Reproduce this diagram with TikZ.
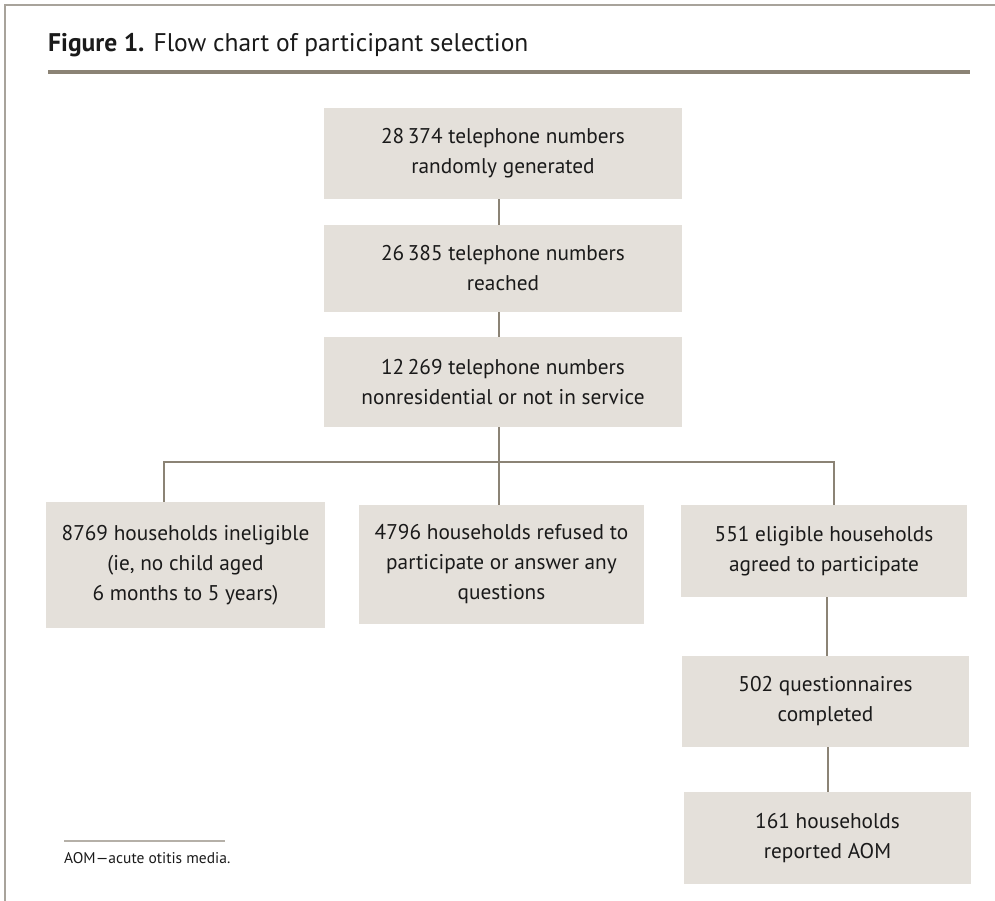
\documentclass[tikz,border=0pt]{standalone}
\usepackage{fontspec}
\setmainfont{PT Sans}
\definecolor{boxfill}{HTML}{E4E0DA}
\definecolor{linec}{HTML}{8B8375}
\definecolor{framec}{HTML}{A8A39B}
\definecolor{footc}{HTML}{B5B0A8}
\definecolor{txt}{HTML}{1A1A1A}
\begin{document}
\begin{tikzpicture}[x=1pt,y=-1pt,
  fbox/.style={rectangle, fill=boxfill, draw=none, align=center, inner sep=0pt,
    text=txt, font=\fontsize{21.3}{30}\selectfont},
  conn/.style={draw=linec, line width=2pt}]
\useasboundingbox (0,0) rectangle (995,901);
% frame
\draw[framec, line width=2pt] (995,5) -- (5,5) -- (5,901);
% title
\node[anchor=base west, inner sep=0pt, text=txt, font=\fontsize{25.5}{30}\selectfont] (title) at (48,52)
  {\textbf{Figure 1.} Flow chart of participant selection};
\draw[linec, line width=4pt] (48,72) -- (970,72);
% boxes
\node[fbox, minimum width=358pt, minimum height=91pt] (b1) at (503,153.5)
  {28\,374 telephone numbers\\randomly generated};
\node[fbox, minimum width=358pt, minimum height=87pt] (b2) at (503,268.5)
  {26\,385 telephone numbers\\reached};
\node[fbox, minimum width=358pt, minimum height=90pt] (b3) at (503,382)
  {12\,269 telephone numbers\\nonresidential or not in service};
\node[fbox, minimum width=279pt, minimum height=126pt] (b4) at (185.5,565)
  {8769 households ineligible\\(ie, no child aged\\6 months to 5 years)};
\node[fbox, minimum width=285pt, minimum height=119pt] (b5) at (501.5,564.5)
  {4796 households refused to\\participate or answer any\\questions};
\node[fbox, minimum width=286pt, minimum height=92pt] (b6) at (824,551)
  {551 eligible households\\agreed to participate};
\node[fbox, minimum width=287pt, minimum height=91pt] (b7) at (825.5,701.5)
  {502 questionnaires\\completed};
\node[fbox, minimum width=287pt, minimum height=92pt] (b8) at (827.5,838)
  {161 households\\reported AOM};
% connectors
\coordinate (hl) at (164,462);
\coordinate (hr) at (834,462);
\draw[conn] ([xshift=-4pt]b1.south) -- ([xshift=-4pt]b2.north);
\draw[conn] ([xshift=-4pt]b2.south) -- ([xshift=-4pt]b3.north);
\draw[conn] ([xshift=-4pt]b3.south) -- ([xshift=-2.5pt]b5.north);
\draw[conn] (b4.north -| hl) -- (hl) -- (hr) -- (b6.north -| hr);
\draw[conn] ([xshift=3pt]b6.south) -- ([xshift=3pt]b6.south |- b7.north);
\draw[conn] ([xshift=2.5pt]b7.south) -- ([xshift=2.5pt]b7.south |- b8.north);
% footnote
\draw[footc, line width=2pt] (64,841) -- (225,841);
\node[anchor=base west, inner sep=0pt, text=txt, font=\fontsize{15.5}{18}\selectfont] (foot) at (64,863)
  {AOM—acute otitis media.};
\end{tikzpicture}
\end{document}
